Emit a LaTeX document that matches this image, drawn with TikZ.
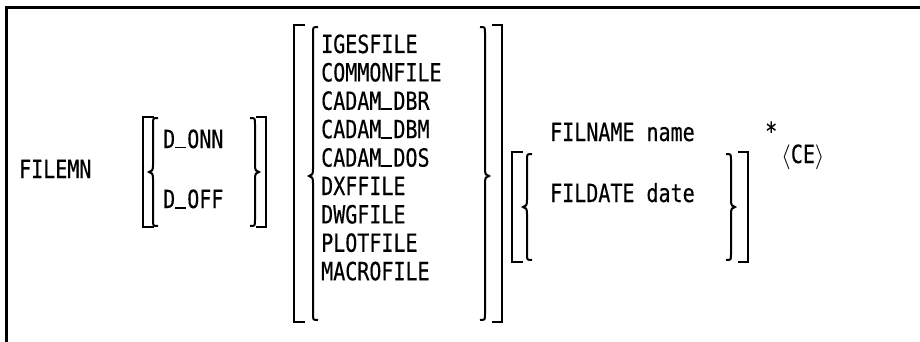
\documentclass[tikz,border=0pt]{standalone}
\usepackage{fontspec}
\newfontfamily\cmdfont{DejaVu Sans Mono}[FakeStretch=0.8,FakeBold=0.4]
\usepackage{tikz}
\usetikzlibrary{positioning,calc}

% underscore sitting on the baseline, one cell wide
\newcommand{\us}{\rlap{\rule[-0.5pt]{10.5pt}{1.8pt}}\phantom{x}}
% square brackets: x, top, bottom
\newcommand{\sqL}[3]{\draw[brk] (#1+11,#2) -- (#1,#2) -- (#1,#3) -- (#1+11,#3);}
\newcommand{\sqR}[3]{\draw[brk] (#1-10,#2) -- (#1,#2) -- (#1,#3) -- (#1-10,#3);}
% curly braces: x, top, bottom, tip
\newcommand{\crL}[4]{\draw[brk] (#1+5,#2) .. controls (#1,#2) .. (#1,#2+6)
  -- (#1,#4-7) .. controls (#1,#4-2) and (#1-1,#4) .. (#1-4,#4)
  .. controls (#1-1,#4) and (#1,#4+2) .. (#1,#4+7)
  -- (#1,#3-6) .. controls (#1,#3) .. (#1+5,#3);}
\newcommand{\crR}[4]{\draw[brk] (#1-5,#2) .. controls (#1,#2) .. (#1,#2+6)
  -- (#1,#4-7) .. controls (#1,#4-2) and (#1+1,#4) .. (#1+4,#4)
  .. controls (#1+1,#4) and (#1,#4+2) .. (#1,#4+7)
  -- (#1,#3-6) .. controls (#1,#3) .. (#1-5,#3);}

\begin{document}
\begin{tikzpicture}[
    x=1pt,y=-1pt,
    every node/.style={font=\cmdfont\fontsize{25}{29}\selectfont,inner sep=0pt,anchor=base west},
    brk/.style={line width=2pt,black},
    frame/.style={line width=3pt,black},
  ]
  \useasboundingbox (0,0) rectangle (920,342);

  % frame: top and left edges only
  \draw[frame] (6.5,342) -- (6.5,7.5) -- (920,7.5);

  % command
  \node (cmd) at (19,178) {FILEMN};

  % display switch
  \sqL{143}{117}{227}
  \crL{153}{118}{226}{172}
  \node (donn) at (163,148) {D\us ONN};
  \node (doff) at (163,208) {D\us OFF};
  \crR{255}{118}{226}{172}
  \sqR{266}{117}{227}

  % file types
  \sqL{294}{25}{322}
  \crL{313}{27}{320}{176}
  \foreach \ft [count=\i from 0] in {IGESFILE,COMMONFILE,CADAM\us DBR,CADAM\us DBM,
      CADAM\us DOS,DXFFILE,DWGFILE,PLOTFILE,MACROFILE}
    \node (ft\i) at (321,53+28.4*\i) {\ft};
  \crR{485}{27}{320}{176}
  \sqR{502}{25}{322}

  % name and date
  \node (fname) at (550,141) {FILNAME name};
  \sqL{512}{152}{262}
  \crL{527}{154}{260}{207}
  \node (fdate) at (550,202) {FILDATE date};
  \crR{731}{154}{260}{207}
  \sqR{748}{152}{262}

  % repeat and end
  \node (rep) at (765,140) {*};
  \node (ce) at (781,163) {$\langle$CE$\rangle$};
\end{tikzpicture}
\end{document}
